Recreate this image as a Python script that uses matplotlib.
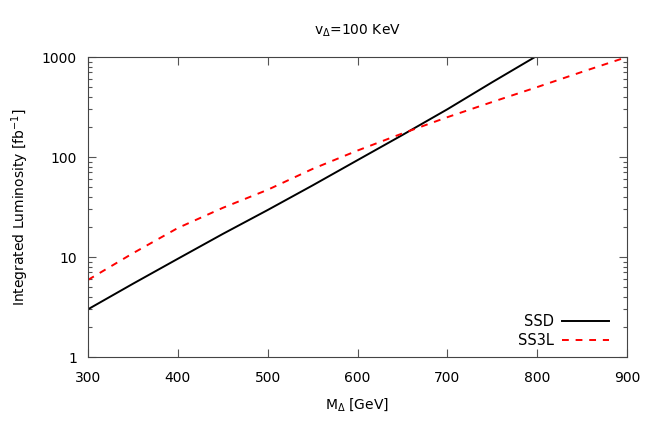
import numpy as np
import matplotlib
matplotlib.use("Agg")
import matplotlib.pyplot as plt
from matplotlib.ticker import LogLocator, FixedLocator, NullFormatter

# values
mass = [300, 350, 400, 450, 500, 550, 600, 650, 700, 750, 800, 850, 900]
ssd = [3.0, 5.4, 9.6, 17, 29.5, 52, 93, 166, 300, 560, 1030]
ss3l = [5.9, 10.9, 19.5, 31, 47, 76, 116, 172, 250, 355, 500, 710, 1000]

plt.rcParams['font.family'] = ['DejaVu Sans']
plt.rcParams['font.size'] = 10

fig = plt.figure(figsize=(6.54, 4.36), dpi=100)
ax = fig.add_axes([88 / 654, 79 / 436, 539 / 654, 300 / 436])

ax.plot(mass[:len(ssd)], ssd, color='black', lw=1.4, label='SSD')
ax.plot(mass, ss3l, color='red', lw=1.4, ls=(0, (3.5, 3.5)), label='SS3L')

ax.set_yscale('log')
ax.set_xlim(300, 900)
ax.set_ylim(1, 1000)

ax.xaxis.set_major_locator(FixedLocator([300, 400, 500, 600, 700, 800, 900]))
ax.yaxis.set_major_locator(FixedLocator([1, 10, 100, 1000]))
ax.set_yticklabels(['1', '10', '100', '1000'])
ax.yaxis.set_minor_locator(LogLocator(base=10, subs=np.arange(2, 10)))
ax.yaxis.set_minor_formatter(NullFormatter())

ax.tick_params(which='both', direction='in', top=True, right=True, color='#555555')
ax.tick_params(which='major', length=6, width=0.8)
ax.tick_params(which='minor', length=3, width=0.8)
ax.tick_params(axis='x', pad=10)
ax.tick_params(axis='y', pad=8)
for s in ax.spines.values():
    s.set_color('#444444')
    s.set_linewidth(0.8)

ax.set_xlabel(r'M$_\Delta$ [GeV]', labelpad=8)
ax.set_ylabel(r'Integrated Luminosity [fb$^{-1}$]', labelpad=8)
ax.set_title(r'v$_\Delta$=100 KeV', pad=16, fontsize=10)

ax.legend(loc='lower right', bbox_to_anchor=(0.983, 0.0), frameon=False,
          markerfirst=False, handlelength=3.2, handletextpad=0.6,
          labelspacing=0.3, borderaxespad=0.2, fontsize=10.5)

fig.savefig('out.png', dpi=100)
